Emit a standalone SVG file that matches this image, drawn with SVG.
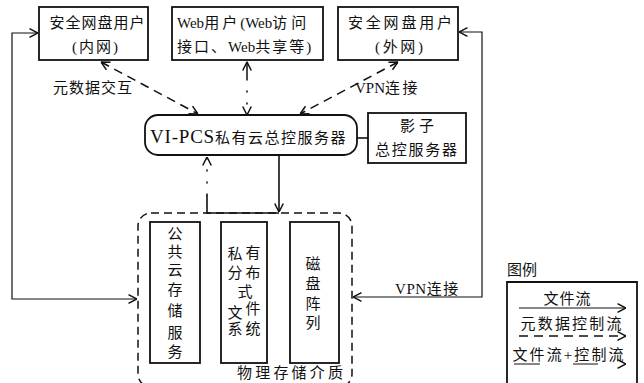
<svg xmlns="http://www.w3.org/2000/svg" width="644" height="383" viewBox="0 0 644 383">
<style>
text{font-family:"Liberation Serif","Noto Sans CJK SC",serif;font-size:15px;fill:#111;}
.m{text-anchor:middle;}
.box{fill:#fff;stroke:#111;stroke-width:1.8;}
.ln{fill:none;stroke:#111;stroke-width:1.2;}
.th{fill:none;stroke:#111;stroke-width:1.6;}
.da{fill:none;stroke:#111;stroke-width:1.5;stroke-dasharray:9,6;}
.dot{fill:none;stroke:#111;stroke-width:1.5;stroke-linecap:round;}
.v{font-size:15px;text-anchor:middle;}
</style>
<defs>
<marker id="ah" viewBox="0 0 9 10" refX="9" refY="5" markerWidth="9" markerHeight="10" markerUnits="userSpaceOnUse" orient="auto-start-reverse">
<path d="M0.5,0.7 L9,5 L0.5,9.3" fill="none" stroke="#111" stroke-width="1.5"/>
</marker>
</defs>

<g id="connectors">
<path class="ln" d="M38,33 H12 V299 H137" marker-start="url(#ah)" marker-end="url(#ah)"/>
<path class="ln" d="M459,32 H482 V297 H353" marker-start="url(#ah)" marker-end="url(#ah)"/>
<path class="da" d="M101,62 L198,114" marker-start="url(#ah)" marker-end="url(#ah)"/>
<path class="da" d="M398,62 L300,114" marker-start="url(#ah)" marker-end="url(#ah)"/>
<path class="dot" d="M247,62 V115" stroke-dasharray="18,11,1,11,1,11,1,30" marker-start="url(#ah)" marker-end="url(#ah)"/>
<path class="th" d="M279,156 V212" marker-end="url(#ah)"/>
<path class="th" d="M279,213 H207 V195"/>
<path class="dot" d="M207,195 V157" stroke-dasharray="1,11" marker-end="url(#ah)"/>
<path class="th" d="M357,138 H368" stroke-width="2"/>
</g>

<g id="user-inner">
<rect class="box" x="39" y="7" width="109" height="53"/>
<text class="m" x="97" y="28" textLength="95" lengthAdjust="spacing">安全网盘用户</text>
<text class="m" x="95" y="52" textLength="46" lengthAdjust="spacing">(内网)</text>
</g>
<g id="user-web">
<rect class="box" x="172" y="7" width="151" height="53"/>
<text x="177" y="28"><tspan>Web</tspan><tspan letter-spacing="3">用户</tspan><tspan>(Web</tspan><tspan letter-spacing="4">访问</tspan></text>
<text x="177" y="52"><tspan letter-spacing="2">接口、</tspan><tspan>Web</tspan><tspan letter-spacing="2">共享等</tspan><tspan>)</tspan></text>
</g>
<g id="user-outer">
<rect class="box" x="338" y="7" width="120" height="53"/>
<text class="m" x="400" y="28" textLength="104" lengthAdjust="spacing">安全网盘用户</text>
<text class="m" x="399" y="52" textLength="48" lengthAdjust="spacing">(外网)</text>
</g>

<text class="m" x="92.5" y="93" textLength="79" lengthAdjust="spacing">元数据交互</text>
<text x="355" y="93"><tspan>VPN</tspan><tspan letter-spacing="2.5">连接</tspan></text>
<text x="395" y="294"><tspan letter-spacing="0.6">VPN</tspan><tspan letter-spacing="1.5">连接</tspan></text>

<g id="master">
<rect class="box" x="145" y="115" width="212" height="40" rx="13"/>
<text x="150" y="143"><tspan font-size="19" letter-spacing="0.8">VI-PCS</tspan><tspan font-size="15" letter-spacing="1.5">私有云总控服务器</tspan></text>
</g>
<g id="shadow">
<rect class="box" x="368" y="113" width="98" height="50"/>
<text class="m" x="417" y="131" textLength="34" lengthAdjust="spacing">影子</text>
<text class="m" x="416" y="155" textLength="82" lengthAdjust="spacing">总控服务器</text>
</g>

<g id="storage">
<rect x="138" y="213" width="214" height="174" rx="13" fill="none" stroke="#111" stroke-width="1.5" stroke-dasharray="8,5"/>
<text class="m" x="290" y="378" textLength="106" lengthAdjust="spacing">物理存储介质</text>
</g>
<g id="public-cloud">
<rect class="box" x="150" y="222" width="50" height="141"/>
<text class="v"><tspan x="175" y="239">公</tspan><tspan x="175" y="257">共</tspan><tspan x="175" y="275">云</tspan><tspan x="175" y="295">存</tspan><tspan x="175" y="316">储</tspan><tspan x="175" y="338">服</tspan><tspan x="175" y="357">务</tspan></text>
</g>
<g id="dfs">
<rect class="box" x="221" y="222" width="46" height="141"/>
<text class="v"><tspan x="235" y="259">私</tspan><tspan x="253" y="258">有</tspan><tspan x="235" y="278">分</tspan><tspan x="253" y="278">布</tspan><tspan x="245" y="297">式</tspan><tspan x="235" y="318">文</tspan><tspan x="253" y="314">件</tspan><tspan x="235" y="334">系</tspan><tspan x="253" y="334">统</tspan></text>
</g>
<g id="disk">
<rect class="box" x="290" y="222" width="49" height="141"/>
<text class="v"><tspan x="313" y="269">磁</tspan><tspan x="313" y="289">盘</tspan><tspan x="313" y="309">阵</tspan><tspan x="313" y="328">列</tspan></text>
</g>

<g id="legend">
<text x="507" y="275" font-size="14">图例</text>
<path d="M507,390 V282 H637 V390" fill="none" stroke="#111" stroke-width="1.8"/>
<text class="m" x="567" y="304" textLength="47" lengthAdjust="spacing">文件流</text>
<path class="ln" d="M519,308 H626" stroke-width="1.5" marker-end="url(#ah)"/>
<text class="m" x="571" y="329" textLength="101" lengthAdjust="spacing">元数据控制流</text>
<path class="da" d="M519,336 H626" stroke-dasharray="8,5" marker-end="url(#ah)"/>
<text class="m" x="568" y="360" textLength="111" lengthAdjust="spacing">文件流+控制流</text>
<path class="ln" d="M514,364 H626" stroke-width="1.5" stroke-dasharray="26,33,25,40" marker-end="url(#ah)"/>
</g>
</svg>
